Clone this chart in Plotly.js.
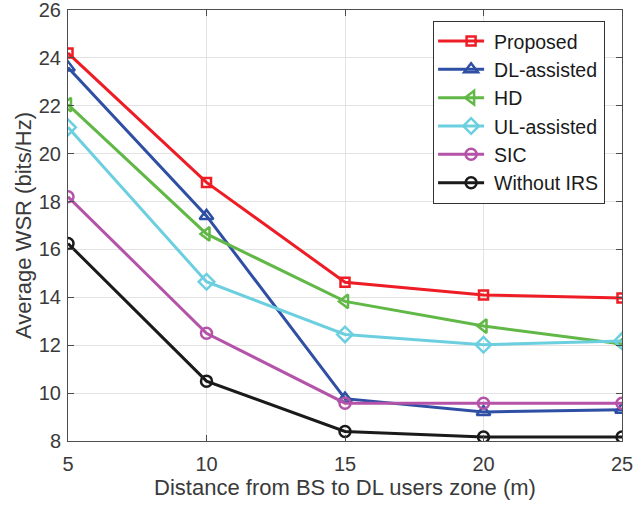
<!DOCTYPE html>
<html><head><meta charset="utf-8">
<script src="https://cdn.plot.ly/plotly-3.0.1.min.js"></script>
<style>body{margin:0;padding:0;background:#fff}#chart{width:633px;height:505px}</style>
</head><body><div id="chart"></div>
<script>
const distance = [5, 10, 15, 20, 25];
const proposed = [24.2, 18.8, 14.63, 14.1, 13.97];
const dlAssisted = [23.6, 17.4, 9.77, 9.21, 9.31];
const hd = [22.05, 16.65, 13.83, 12.8, 12.05];
const ulAssisted = [21.1, 14.65, 12.45, 12.02, 12.18];
const sic = [18.2, 12.5, 9.58, 9.58, 9.58];
const withoutIRS = [16.25, 10.5, 8.4, 8.17, 8.17];
const seriesNames = ['Proposed', 'DL-assisted', 'HD', 'UL-assisted', 'SIC', 'Without IRS'];
const xTicks = [5, 10, 15, 20, 25];
const yTicks = [8, 10, 12, 14, 16, 18, 20, 22, 24, 26];

const styles = [
  {c: '#ee1c25', s: 'square-open', sz: 9},
  {c: '#2e4fa3', s: 'triangle-up-open', sz: 12},
  {c: '#61b847', s: 'triangle-left-open', sz: 12},
  {c: '#6ccfe0', s: 'diamond-open', sz: 12},
  {c: '#b553a8', s: 'circle-open', sz: 11},
  {c: '#1a1a1a', s: 'circle-open', sz: 11}
];
const ys = [proposed, dlAssisted, hd, ulAssisted, sic, withoutIRS];
const traces = ys.map((y, i) => ({
  x: distance, y: y, name: seriesNames[i], type: 'scatter', mode: 'lines+markers',
  line: {color: styles[i].c, width: 3},
  marker: {symbol: styles[i].s, size: styles[i].sz, color: styles[i].c, line: {width: 2.5, color: styles[i].c}}
}));

const axisCommon = {
  showgrid: true, gridcolor: '#e3e3e3', gridwidth: 1,
  showline: true, linecolor: '#4d4d4d', linewidth: 1, mirror: 'ticks',
  ticks: 'inside', ticklen: 6, tickcolor: '#4d4d4d',
  tickfont: {family: 'Liberation Sans, Arial, sans-serif', size: 20, color: '#3a3a3a'},
  ticklabeloverflow: 'allow',
  zeroline: false
};
const layout = {
  width: 633, height: 505,
  margin: {l: 68, r: 11, t: 10, b: 64},
  paper_bgcolor: '#fff', plot_bgcolor: '#fff',
  font: {family: 'Liberation Sans, Arial, sans-serif', color: '#262626'},
  xaxis: Object.assign({}, axisCommon, {
    range: [5, 25], tickvals: xTicks, ticktext: xTicks.map(String), ticklabelstandoff: 5,
    title: {text: 'Distance from BS to DL users zone (m)', font: {size: 22, color: '#3a3a3a'}, standoff: 4}
  }),
  yaxis: Object.assign({}, axisCommon, {
    range: [8, 26], tickvals: yTicks, ticktext: yTicks.map(String), ticklabelstandoff: 2,
    title: {text: 'Average WSR (bits/Hz)', font: {size: 22, color: '#3a3a3a'}, standoff: 1}
  }),
  legend: {
    x: 0.659, y: 0.975, xanchor: 'left', yanchor: 'top',
    bgcolor: '#fff', bordercolor: '#333', borderwidth: 1,
    font: {size: 19.5, color: '#1a1a1a'}, tracegroupgap: 0, itemwidth: 50
  },
  showlegend: true
};
Plotly.newPlot('chart', traces, layout, {displayModeBar: false, staticPlot: true}).then(gd => {
  // lengthen legend line samples to match the reference
  gd.querySelectorAll('.legend .legendlines path').forEach(p => p.setAttribute('d', 'M4,0h46'));
  gd.querySelectorAll('.legend .legendpoints path').forEach(p => {
    const t = p.getAttribute('transform') || '';
    p.setAttribute('transform', t.replace(/translate\(([-\d.]+)/, (m, a) => 'translate(' + (parseFloat(a) + 7)));
  });
});
</script></body></html>
